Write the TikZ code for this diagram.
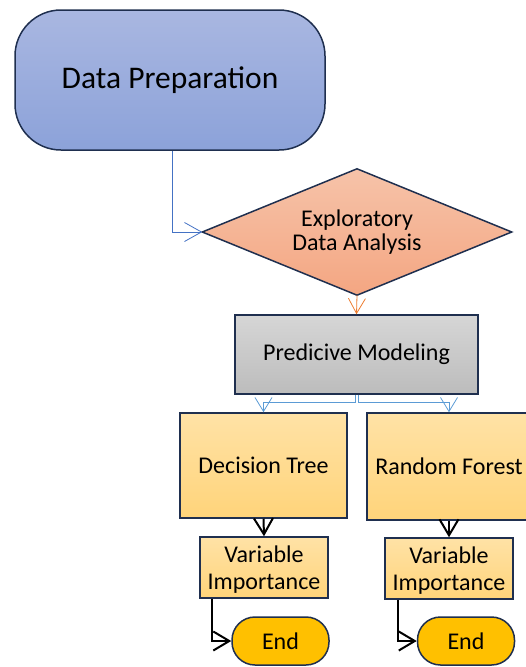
\documentclass[tikz,border=0pt]{standalone}
\usepackage{fontspec}
\setmainfont{Carlito}
\usetikzlibrary{arrows.meta,backgrounds}
\definecolor{navy}{HTML}{1F2F4F}
\definecolor{dpTop}{HTML}{A9B7E1}
\definecolor{dpBot}{HTML}{8CA2D9}
\definecolor{edaTop}{HTML}{F6C3A9}
\definecolor{edaBot}{HTML}{F4A682}
\definecolor{pmTop}{HTML}{D6D6D6}
\definecolor{pmBot}{HTML}{BCBCBC}
\definecolor{orTop}{HTML}{FFE2A6}
\definecolor{orBot}{HTML}{FFD47A}
\definecolor{gold}{HTML}{FFC000}
\definecolor{lineblue}{HTML}{4472C4}
\definecolor{lightblue}{HTML}{5B9BD5}
\definecolor{lineorange}{HTML}{ED7D31}
\tikzset{
  boxbase/.style={draw=navy, line width=1.5pt, align=center, inner sep=0pt, font=\fontsize{24}{25}\selectfont},
  dpbox/.style={boxbase, rounded corners=46pt, top color=dpTop, bottom color=dpBot, minimum width=310pt, minimum height=140pt, font=\fontsize{31.5}{33}\selectfont},
  edatext/.style={align=center, inner sep=0pt, minimum width=309pt, minimum height=126pt, font=\fontsize{24}{24.5}\selectfont},
  edashape/.style={draw=navy, line width=1.5pt, line join=miter, top color=edaTop, bottom color=edaBot},
  pmbox/.style={boxbase, rectangle, top color=pmTop, bottom color=pmBot, minimum width=243pt, minimum height=79pt},
  orbox/.style={boxbase, rectangle, top color=orTop, bottom color=orBot, font=\fontsize{24}{27}\selectfont},
  vibox/.style={orbox, minimum width=128pt, minimum height=61pt, text depth=0pt},
  endbox/.style={boxbase, rounded corners=23pt, fill=gold, minimum width=97pt, minimum height=48pt},
  bluearr/.style={draw=lineblue, line width=0.8pt, -{Straight Barb[length=17pt,width=19pt,line width=0.8pt]}},
  lbluearr/.style={draw=lightblue, line width=0.8pt, -{Straight Barb[length=14pt,width=17pt,line width=0.8pt]}},
  orarr/.style={draw=lineorange, line width=0.8pt, -{Straight Barb[length=15pt,width=17pt,line width=0.8pt]}},
  blkarr/.style={draw=black, line width=2pt, -{Straight Barb[length=16pt,width=19pt,line width=2pt]}},
}
\begin{document}
\begin{tikzpicture}[x=1pt,y=-1pt]
\useasboundingbox (0,0) rectangle (526,667);
\clip (0,0) rectangle (526,667);
\node[dpbox] (dp) at (170,80) {Data Preparation};
\node[edatext] (eda) at (357,232) {Exploratory\\Data Analysis};
\begin{scope}[on background layer]
\shade[edashape] (eda.west) -- (eda.north) -- (eda.east) -- (eda.south) -- cycle;
\end{scope}
\node[pmbox] (pm) at (356.5,354.5) {Predicive Modeling};
\node[orbox, minimum width=167pt, minimum height=105pt] (dt) at (263.5,465.5) {Decision Tree};
\node[orbox, minimum width=164pt, minimum height=107pt] (rf) at (449,466.5) {Random Forest};
\node[vibox] (vi1) at (264,567.5) {Variable\\Importance};
\node[vibox] (vi2) at (449,568.5) {Variable\\Importance};
\node[endbox] (e1) at (280.5,641) {End};
\node[endbox] (e2) at (466,641) {End};

\draw[bluearr] ([xshift=2pt]dp.south) |- (eda.west);
\draw[orarr] (eda.south) -- (pm.north);
\draw[lbluearr] ([xshift=-1.5pt]pm.south) -- ++(0,8) -| (dt.north);
\draw[lbluearr] ([xshift=1.5pt]pm.south) -- ++(0,8) -| (rf.north);
\draw[blkarr] (dt.south) -- (vi1.north);
\draw[blkarr] (rf.south) -- (vi2.north);
\draw[blkarr] ([xshift=13pt]vi1.south west) |- (e1.west);
\draw[blkarr] ([xshift=14pt]vi2.south west) |- (e2.west);
\end{tikzpicture}
\end{document}
